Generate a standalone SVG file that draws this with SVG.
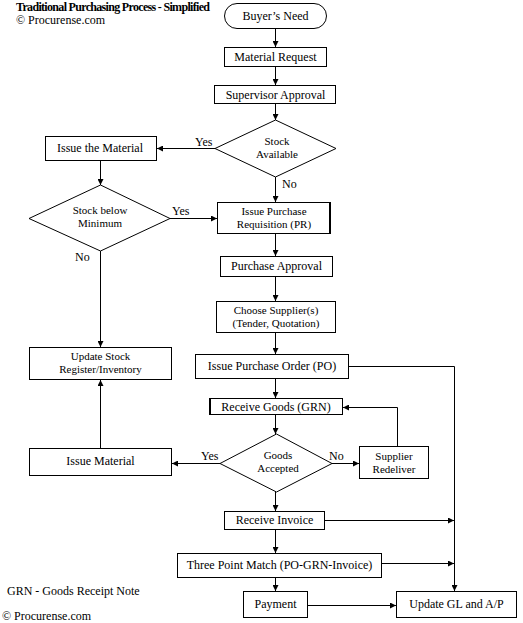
<svg xmlns="http://www.w3.org/2000/svg" width="523" height="623" viewBox="0 0 523 623">
<style>
.b{fill:#fff;stroke:#000;stroke-width:1}
.t{font-family:"Liberation Serif","Times New Roman",serif;font-size:12px;fill:#000;text-anchor:middle}
.s{font-size:11px}
.l{font-family:"Liberation Serif","Times New Roman",serif;font-size:12px;fill:#000}
.c{fill:none;stroke:#000;stroke-width:1}
</style>
<defs>
<marker id="a" markerUnits="userSpaceOnUse" markerWidth="7" markerHeight="6" refX="6" refY="3" orient="auto"><path d="M0,0 L6,3 L0,6 z" fill="#000"/></marker>
</defs>
<rect width="523" height="623" fill="#fff"/>
<text class="l" x="16" y="11" font-weight="bold" font-size="10.5" textLength="194">Traditional Purchasing Process - Simplified</text>
<text class="l" x="16" y="24" font-size="11">© Procurense.com</text>
<text class="l" x="7" y="595" font-size="11">GRN - Goods Receipt Note</text>
<text class="l" x="2" y="620" font-size="11">© Procurense.com</text>

<g id="connectors">
<path class="c" marker-end="url(#a)" d="M275.5,28 V47"/>
<path class="c" marker-end="url(#a)" d="M275.5,66 V85"/>
<path class="c" marker-end="url(#a)" d="M275.5,103 V120"/>
<path class="c" marker-end="url(#a)" d="M215,148.5 H157"/>
<path class="c" marker-end="url(#a)" d="M275.5,177 V202"/>
<path class="c" marker-end="url(#a)" d="M100.5,161 V185"/>
<path class="c" marker-end="url(#a)" d="M170,218.5 H217"/>
<path class="c" marker-end="url(#a)" d="M100.5,251 V347"/>
<path class="c" marker-end="url(#a)" d="M275.5,234 V256"/>
<path class="c" marker-end="url(#a)" d="M275.5,277 V301"/>
<path class="c" marker-end="url(#a)" d="M275.5,333 V354"/>
<path class="c" marker-end="url(#a)" d="M275.5,379 V398"/>
<path class="c" marker-end="url(#a)" d="M275.5,415 V434"/>
<path class="c" marker-end="url(#a)" d="M220,463.5 H172"/>
<path class="c" marker-end="url(#a)" d="M332,463.5 H359"/>
<path class="c" marker-end="url(#a)" d="M397.5,446 V407.5 H343"/>
<path class="c" marker-end="url(#a)" d="M275.5,492 V511"/>
<path class="c" marker-end="url(#a)" d="M100.5,448 V380"/>
<path class="c" marker-end="url(#a)" d="M275.5,530 V553"/>
<path class="c" marker-end="url(#a)" d="M275.5,578 V591"/>
<path class="c" marker-end="url(#a)" d="M349,366.5 H454.5 V591"/>
<path class="c" marker-end="url(#a)" d="M325,520.5 H454"/>
<path class="c" marker-end="url(#a)" d="M382,563.5 H454"/>
<path class="c" marker-end="url(#a)" d="M308,605.5 H396"/>
<text class="l" x="195" y="146">Yes</text>
<text class="l" x="282" y="188">No</text>
<text class="l" x="172" y="215">Yes</text>
<text class="l" x="75" y="261">No</text>
<text class="l" x="201" y="460">Yes</text>
<text class="l" x="329" y="460">No</text>
</g>

<g id="buyers-need"><rect class="b" x="224.5" y="3.5" width="102" height="25" rx="12.5"/><text class="t" x="275.5" y="20">Buyer’s Need</text></g>
<g id="material-request"><rect class="b" x="224.5" y="47.5" width="102" height="19"/><text class="t" x="275.5" y="61">Material Request</text></g>
<g id="supervisor-approval"><rect class="b" x="214.5" y="85.5" width="121" height="18"/><text class="t" x="275.5" y="99">Supervisor Approval</text></g>
<g id="stock-available"><polygon class="b" points="275.5,120 336,148.5 275.5,177 215,148.5"/><text class="t s" x="277" y="145">Stock</text><text class="t s" x="277" y="158">Available</text></g>
<g id="issue-the-material"><rect class="b" x="45.5" y="136.5" width="111" height="24"/><text class="t" x="100" y="152">Issue the Material</text></g>
<g id="stock-below-minimum"><polygon class="b" points="100.5,185 170,218.5 100.5,251 29,218.5"/><text class="t s" x="100" y="214">Stock below</text><text class="t s" x="100" y="227">Minimum</text></g>
<g id="issue-pr"><rect class="b" x="217.5" y="202.5" width="112" height="31"/><line x1="330.5" y1="202" x2="330.5" y2="234" stroke="#000"/><text class="t s" x="274" y="215">Issue Purchase</text><text class="t s" x="274" y="228">Requisition (PR)</text></g>
<g id="purchase-approval"><rect class="b" x="220.5" y="256.5" width="112" height="20"/><text class="t" x="276.5" y="270">Purchase Approval</text></g>
<g id="choose-supplier"><rect class="b" x="216.5" y="301.5" width="119" height="31"/><text class="t s" x="276" y="314">Choose Supplier(s)</text><text class="t s" x="276" y="327">(Tender, Quotation)</text></g>
<g id="update-stock"><rect class="b" x="29.5" y="347.5" width="142" height="32"/><text class="t s" x="100.5" y="360">Update Stock</text><text class="t s" x="100.5" y="373">Register/Inventory</text></g>
<g id="issue-po"><rect class="b" x="195.5" y="354.5" width="153" height="24"/><text class="t" x="272" y="370">Issue Purchase Order (PO)</text></g>
<g id="receive-goods"><rect class="b" x="209.5" y="398.5" width="133" height="16"/><line x1="210.5" y1="398" x2="210.5" y2="415" stroke="#000"/><text class="t" x="276" y="411">Receive Goods (GRN)</text></g>
<g id="goods-accepted"><polygon class="b" points="276.5,434 332,463.5 276.5,492 220,463.5"/><text class="t s" x="278" y="459">Goods</text><text class="t s" x="278" y="472">Accepted</text></g>
<g id="supplier-redeliver"><rect class="b" x="359.5" y="446.5" width="69" height="32"/><text class="t s" x="394" y="460">Supplier</text><text class="t s" x="394" y="473">Redeliver</text></g>
<g id="issue-material"><rect class="b" x="29.5" y="448.5" width="142" height="27"/><text class="t" x="100.5" y="465">Issue Material</text></g>
<g id="receive-invoice"><rect class="b" x="224.5" y="511.5" width="100" height="18"/><text class="t" x="274.5" y="524">Receive Invoice</text></g>
<g id="three-point-match"><rect class="b" x="177.5" y="553.5" width="204" height="24"/><text class="t" x="279.5" y="569">Three Point Match (PO-GRN-Invoice)</text></g>
<g id="payment"><rect class="b" x="243.5" y="591.5" width="64" height="26"/><text class="t" x="275.5" y="608">Payment</text></g>
<g id="update-gl"><rect class="b" x="396.5" y="591.5" width="120" height="26"/><text class="t" x="456.5" y="608">Update GL and A/P</text></g>
</svg>
